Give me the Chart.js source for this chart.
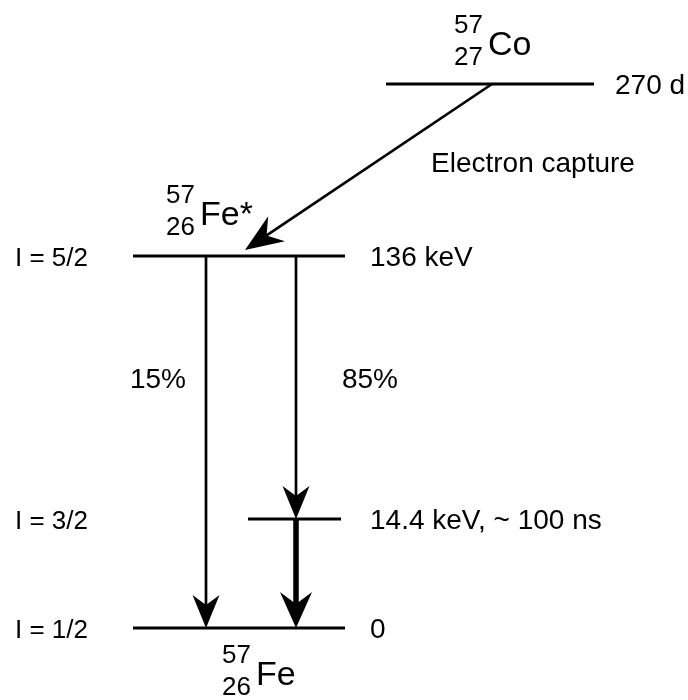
<!DOCTYPE html>
<html>
<head>
<meta charset="utf-8">
<script src="https://cdn.jsdelivr.net/npm/chart.js@4/dist/chart.umd.min.js"></script>
<style>
html,body{margin:0;padding:0;background:#fff;}
#wrap{width:688px;height:700px;}
</style>
</head>
<body>
<div id="wrap"><canvas id="c" width="688" height="700"></canvas></div>
<script>
// ---- Diagram data (schematic units) ----
const levelNames   = ['57Co', '57Fe* (136 keV)', '57Fe (14.4 keV)', '57Fe (ground)'];
const levelY       = [84, 256, 519, 628];
const levelXStart  = [386, 133, 248, 133];
const levelXEnd    = [594, 345, 341, 345];
const levelSpin    = ['', 'I = 5/2', 'I = 3/2', 'I = 1/2'];
const levelEnergy  = ['270 d', '136 keV', '14.4 keV, ~ 100 ns', '0'];

// transitions: from level -> to level
const transFrom    = [0, 1, 1, 2];
const transTo      = [1, 3, 2, 3];
const transXStart  = [492, 206, 296, 296];
const transXEnd    = [245, 206, 296, 296];
const transLabel   = ['Electron capture', '15%', '85%', ''];
const transBold    = [false, false, false, true];

// nuclide labels: [mass, atomic number, symbol]
const nuclideMass   = ['57', '57', '57'];
const nuclideZ      = ['27', '26', '26'];
const nuclideSymbol = ['Co', 'Fe*', 'Fe'];

// ---- layout/styling (not data) ----
const FONT = '"Liberation Sans", Arial, Helvetica, sans-serif';
const nuclidePos = [ {x:486, y:55}, {x:198, y:225}, {x:254, y:685} ];
const transLabelPos = [ {x:431, y:172, align:'left'}, {x:158, y:388, align:'center'}, {x:370, y:388, align:'center'} ];

const datasets = [];
levelY.forEach((y, i) => {
  datasets.push({
    label: levelNames[i],
    data: [{x: levelXStart[i], y: y}, {x: levelXEnd[i], y: y}],
    showLine: true, borderColor: '#000', borderWidth: 3, pointRadius: 0,
    borderCapStyle: 'butt', fill: false
  });
});
// arrow shafts (stop inside the arrow head)
transFrom.forEach((f, i) => {
  const x0 = transXStart[i], y0 = levelY[f];
  const x1 = transXEnd[i];
  let y1 = levelY[transTo[i]];
  if (i === 0) y1 = y1 - 6;
  const dx = x1 - x0, dy = y1 - y0, L = Math.hypot(dx, dy);
  const back = transBold[i] ? 22 : 18;
  datasets.push({
    label: 'shaft' + i,
    data: [{x: x0, y: y0}, {x: x1 - dx / L * back, y: y1 - dy / L * back}],
    showLine: true, borderColor: '#000', borderWidth: transBold[i] ? 5.5 : 2.7,
    pointRadius: 0, fill: false, arrowTip: {x: x1, y: y1}, bold: transBold[i], diag: i === 0
  });
});

const annot = {
  id: 'annot',
  afterDatasetsDraw(chart) {
    const ctx = chart.ctx, xs = chart.scales.x, ys = chart.scales.y;
    const px = v => xs.getPixelForValue(v), py = v => ys.getPixelForValue(v);
    ctx.save();
    ctx.fillStyle = '#000';
    // arrow heads
    chart.data.datasets.forEach(ds => {
      if (!ds.arrowTip) return;
      const s = ds.data[0];
      const tx = px(ds.arrowTip.x), ty = py(ds.arrowTip.y);
      const sx = px(s.x), sy = py(s.y);
      const dx = tx - sx, dy = ty - sy, L = Math.hypot(dx, dy);
      const ux = dx / L, uy = dy / L, nx = -uy, ny = ux;
      let len = 33, half = 13.5, notch = 23;
      if (ds.bold) { len = 36; half = 16; notch = 24; }
      if (ds.diag) { len = 38; half = 15; notch = 26; }
      ctx.beginPath();
      ctx.moveTo(tx, ty);
      ctx.lineTo(tx - ux * len + nx * half, ty - uy * len + ny * half);
      ctx.lineTo(tx - ux * notch, ty - uy * notch);
      ctx.lineTo(tx - ux * len - nx * half, ty - uy * len - ny * half);
      ctx.closePath();
      ctx.fill();
    });
    // spin labels and energies
    ctx.textBaseline = 'alphabetic';
    levelY.forEach((y, i) => {
      ctx.font = '26px ' + FONT;
      ctx.textAlign = 'left';
      if (levelSpin[i]) ctx.fillText(levelSpin[i], px(15), py(y) + 10);
      ctx.font = '28px ' + FONT;
      const ex = i === 0 ? levelXEnd[i] + 21 : 370;
      ctx.fillText(levelEnergy[i], px(ex), py(y) + 10);
    });
    // transition labels
    transLabel.forEach((t, i) => {
      if (!t) return;
      const p = transLabelPos[i];
      ctx.font = '28px ' + FONT;
      ctx.textAlign = p.align;
      ctx.fillText(t, px(p.x), py(p.y));
    });
    // nuclide labels
    nuclideSymbol.forEach((sym, i) => {
      const p = nuclidePos[i];
      const x = px(p.x), y = py(p.y);
      ctx.textAlign = 'left';
      ctx.font = '34px ' + FONT;
      ctx.fillText(sym, x + 2, y);
      ctx.textAlign = 'right';
      ctx.font = '26px ' + FONT;
      ctx.fillText(nuclideMass[i], x - 3, y - 22);
      ctx.fillText(nuclideZ[i], x - 3, y + 10);
    });
    ctx.restore();
  }
};

new Chart(document.getElementById('c'), {
  type: 'scatter',
  data: { datasets },
  options: {
    responsive: false, animation: false,
    layout: { padding: 0 },
    plugins: { legend: { display: false }, tooltip: { enabled: false } },
    scales: {
      x: { type: 'linear', min: 0, max: 688, display: false },
      y: { type: 'linear', min: 0, max: 700, reverse: true, display: false }
    }
  },
  plugins: [annot]
});
</script>
</body>
</html>
